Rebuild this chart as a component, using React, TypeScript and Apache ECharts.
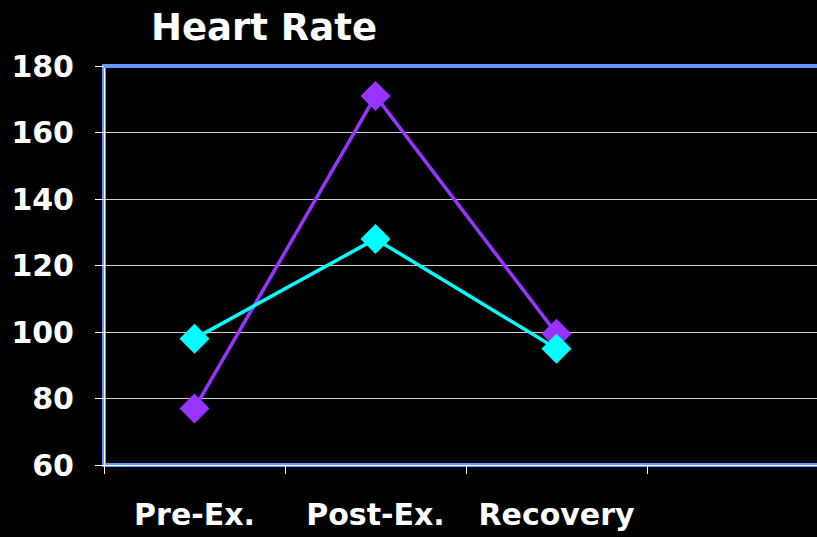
import React, { useEffect, useRef } from "react";
import * as echarts from "echarts";

const categories = ["Pre-Ex.", "Post-Ex.", "Recovery", ""];
const seriesA = [77, 171, 99.5];
const seriesB = [98, 128, 95];
const yMin = 60;
const yMax = 180;
const yStep = 20;

export default function App() {
  const ref = useRef<HTMLDivElement>(null);
  useEffect(() => {
    if (!ref.current) return;
    const chart = echarts.init(ref.current, null, { renderer: "svg" });
    const font = "'DejaVu Sans', Verdana, sans-serif";
    chart.setOption({
      animation: false,
      backgroundColor: "#000000",
      title: {
        text: "Heart Rate",
        left: 146,
        top: 4,
        textStyle: { color: "#ffffff", fontSize: 37, fontWeight: "bold", fontFamily: font },
      },
      grid: {
        left: 104,
        top: 66,
        bottom: 72,
        right: 0,
        show: true,
        borderColor: "#6699ff",
        borderWidth: 4,
        backgroundColor: "transparent",
      },
      xAxis: [
        {
          type: "category",
          data: categories,
          boundaryGap: true,
          axisLine: { show: true, lineStyle: { color: "#ffffff", width: 1 } },
          axisTick: { show: true, length: 9, alignWithLabel: false, lineStyle: { color: "#ffffff", width: 1 } },
          axisLabel: { color: "#ffffff", fontSize: 30, fontWeight: "bold", fontFamily: font, margin: 34, interval: 0 },
          splitLine: { show: false },
        },
        {
          type: "category",
          data: categories,
          position: "top",
          axisLine: { show: true, lineStyle: { color: "#6699ff", width: 4 } },
          axisTick: { show: false },
          axisLabel: { show: false },
          splitLine: { show: false },
        },
      ],
      yAxis: {
        type: "value",
        min: yMin,
        max: yMax,
        interval: yStep,
        axisLine: { show: true, lineStyle: { color: "#ffffff", width: 1 } },
        axisTick: { show: true, length: 9, lineStyle: { color: "#ffffff", width: 1 } },
        axisLabel: { color: "#ffffff", fontSize: 30, fontWeight: "bold", fontFamily: font, margin: 30 },
        splitLine: { show: true, lineStyle: { color: "#d0d0d0", width: 1 } },
      },
      series: [
        {
          type: "line",
          data: seriesA,
          symbol: "diamond",
          symbolSize: 30,
          lineStyle: { color: "#9933ff", width: 3.5 },
          itemStyle: { color: "#9933ff" },
        },
        {
          type: "line",
          data: seriesB,
          symbol: "diamond",
          symbolSize: 30,
          lineStyle: { color: "#00ffff", width: 3.5 },
          itemStyle: { color: "#00ffff" },
        },
      ],
    });
    return () => chart.dispose();
  }, []);
  return (
    <div style={{ position: "absolute", left: 0, top: 0, width: 817, height: 537, overflow: "hidden", background: "#000" }}>
      <div ref={ref} style={{ width: 828, height: 537 }} />
    </div>
  );
}
